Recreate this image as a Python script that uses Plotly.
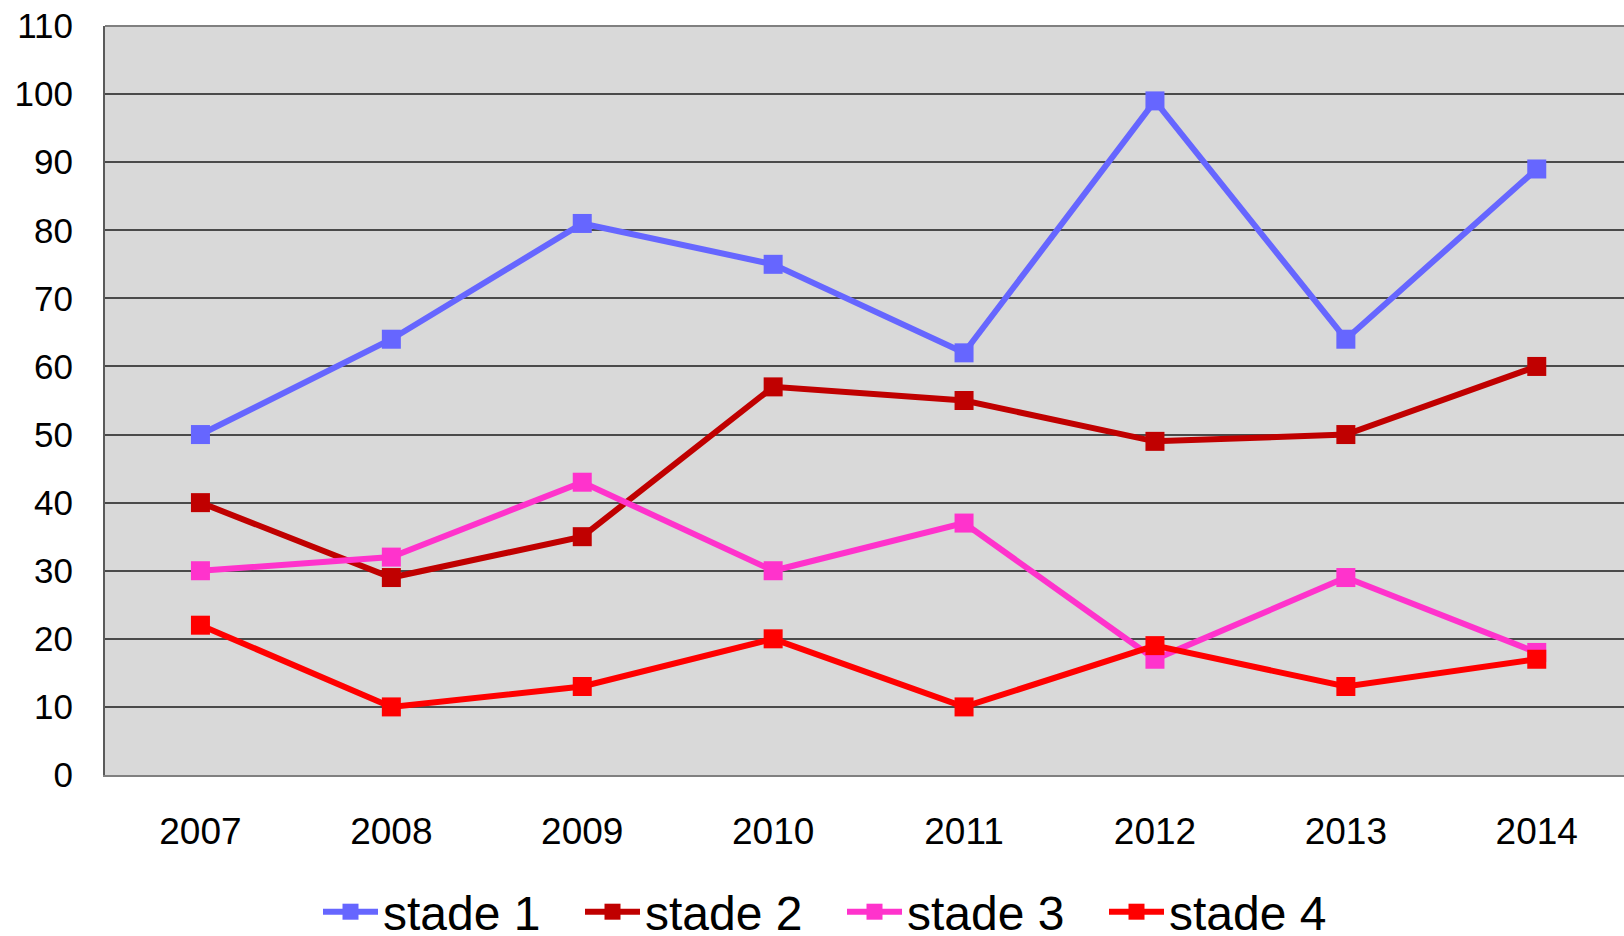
import plotly.graph_objects as go

years = ["2007", "2008", "2009", "2010", "2011", "2012", "2013", "2014"]
stade1 = [50, 64, 81, 75, 62, 99, 64, 89]
stade2 = [40, 29, 35, 57, 55, 49, 50, 60]
stade3 = [30, 32, 43, 30, 37, 17, 29, 18]
stade4 = [22, 10, 13, 20, 10, 19, 13, 17]
names = ["stade 1", "stade 2", "stade 3", "stade 4"]
colors = ["#6666FF", "#C00000", "#FF33CC", "#FF0000"]
y_ticks = [0, 10, 20, 30, 40, 50, 60, 70, 80, 90, 100, 110]

fig = go.Figure()
for name, vals, col in zip(names, [stade1, stade2, stade3, stade4], colors):
    fig.add_trace(go.Scatter(
        x=years, y=vals, name=name, mode="lines+markers",
        line=dict(color=col, width=6),
        marker=dict(symbol="square", size=19, color=col),
    ))

fig.update_layout(
    width=1624, height=936,
    margin=dict(l=105, r=0, t=26, b=161),
    paper_bgcolor="white",
    plot_bgcolor="#D9D9D9",
    font=dict(family="Liberation Sans, Arial, sans-serif", color="black", size=35),
    showlegend=True,
    legend=dict(
        orientation="h", xref="container", x=318 / 1624, xanchor="left",
        yref="container", y=(936 - 912) / 936, yanchor="middle",
        font=dict(size=48), itemwidth=55, entrywidth=192, entrywidthmode="pixels",
        bgcolor="rgba(0,0,0,0)", tracegroupgap=0,
    ),
    xaxis=dict(
        type="category", range=[-0.5, 7.457],
        showgrid=False, showline=True, linecolor="#808080", linewidth=2,
        ticks="outside", ticklen=23, tickcolor="rgba(0,0,0,0)",
        tickfont=dict(size=37), zeroline=False,
    ),
    yaxis=dict(
        range=[0, 110], tickvals=y_ticks,
        showgrid=True, gridcolor="#4a4a4a", gridwidth=1.5,
        showline=True, linecolor="#5a5a5a", linewidth=2,
        ticks="outside", ticklen=23, tickcolor="rgba(0,0,0,0)",
        tickfont=dict(size=35), zeroline=False,
    ),
)
fig.add_shape(type="line", xref="paper", yref="paper", x0=0, x1=1, y0=1, y1=1,
              line=dict(color="#808080", width=2), layer="below")

fig.write_html("out.html", config={"displayModeBar": False})

with open("out.html", "r", encoding="utf-8") as f:
    html = f.read()
html = html.replace("<head>", "<head><style>html,body{margin:0;padding:0;overflow:hidden;}</style>", 1)
with open("out.html", "w", encoding="utf-8") as f:
    f.write(html)
